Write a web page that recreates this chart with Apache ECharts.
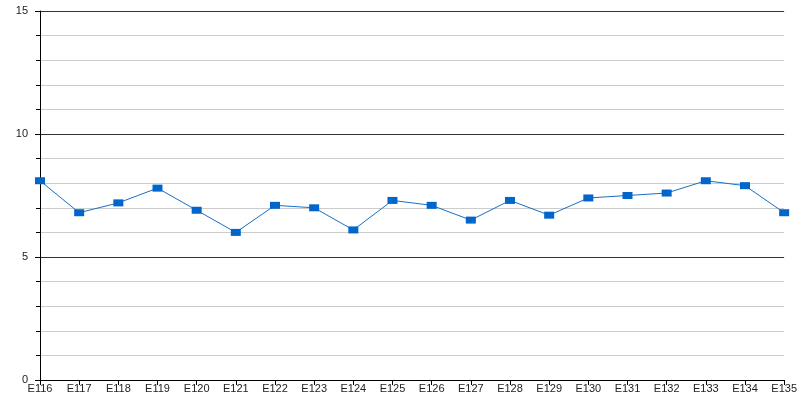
<!DOCTYPE html>
<html>
<head>
<meta charset="utf-8">
<script src="https://cdn.jsdelivr.net/npm/echarts@6/dist/echarts.min.js"></script>
<style>html,body{margin:0;padding:0;background:#fff}#c{width:800px;height:400px}</style>
</head>
<body>
<div id="c"></div>
<script>
const categories = ['E116','E117','E118','E119','E120','E121','E122','E123','E124','E125','E126','E127','E128','E129','E130','E131','E132','E133','E134','E135'];
const values = [8.1, 6.8, 7.2, 7.8, 6.9, 6.0, 7.1, 7.0, 6.1, 7.3, 7.1, 6.5, 7.3, 6.7, 7.4, 7.5, 7.6, 8.1, 7.9, 6.8];
const yTicks = [0, 5, 10, 15];

const chart = echarts.init(document.getElementById('c'), null, {renderer: 'canvas'});
chart.setOption({
  animation: false,
  backgroundColor: '#fff',
  grid: {left: 40, right: 15, top: 11, bottom: 20, containLabel: false},
  xAxis: {
    type: 'category',
    data: categories,
    boundaryGap: false,
    axisLine: {show: true, lineStyle: {color: '#000', width: 1}},
    axisTick: {show: true, alignWithLabel: true, length: 5, lineStyle: {color: '#000'}},
    axisLabel: {color: '#222', fontFamily: 'Liberation Sans', fontSize: 11, margin: 3, interval: 0},
    splitLine: {show: false}
  },
  yAxis: {
    type: 'value',
    min: yTicks[0],
    max: yTicks[yTicks.length - 1],
    interval: 5,
    axisLine: {show: true, lineStyle: {color: '#000', width: 1}},
    axisTick: {show: true, length: 5, lineStyle: {color: '#000'}},
    minorTick: {show: true, splitNumber: 5, length: 4, lineStyle: {color: '#000'}},
    axisLabel: {color: '#222', fontFamily: 'Liberation Sans', fontSize: 11, margin: 12},
    splitLine: {show: true, lineStyle: {color: '#333', width: 1}},
    minorSplitLine: {show: true, lineStyle: {color: '#ccc', width: 1}}
  },
  series: [{
    type: 'line',
    data: values,
    symbol: 'rect',
    symbolSize: [10, 7],
    itemStyle: {color: '#0066cc'},
    lineStyle: {color: '#1a6fc4', width: 1},
    z: 5
  }]
});
</script>
</body>
</html>
